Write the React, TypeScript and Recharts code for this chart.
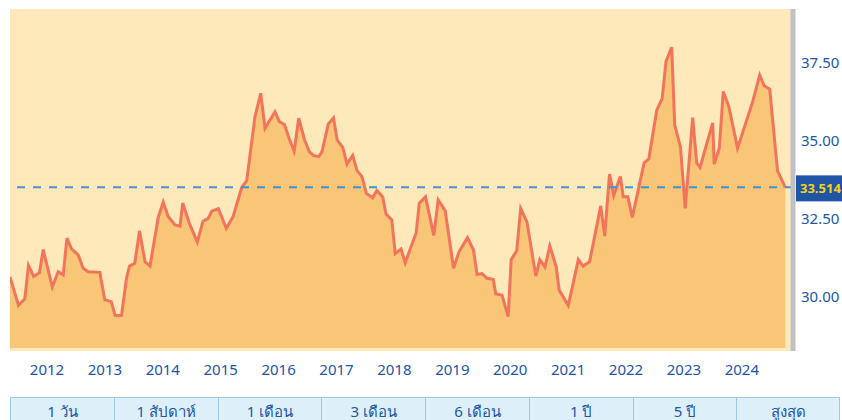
import { AreaChart, Area, XAxis, YAxis, CartesianGrid, ReferenceLine } from 'recharts';

// วันที่ (ปีทศนิยม) และราคาปิด อ่านจากกราฟ
const dates = [
  2011.361, 2011.508, 2011.617, 2011.68, 2011.77, 2011.87, 2011.934, 2012.092, 2012.193, 2012.28,
  2012.344, 2012.423, 2012.539, 2012.625, 2012.712, 2012.912, 2012.998, 2013.109, 2013.178, 2013.287,
  2013.373, 2013.425, 2013.516, 2013.598, 2013.693, 2013.779, 2013.921, 2014.007, 2014.095, 2014.211,
  2014.297, 2014.344, 2014.461, 2014.596, 2014.694, 2014.786, 2014.845, 2014.959, 2015.097, 2015.212,
  2015.363, 2015.449, 2015.592, 2015.691, 2015.765, 2015.938, 2016.012, 2016.102, 2016.18, 2016.269,
  2016.347, 2016.447, 2016.53, 2016.599, 2016.694, 2016.75, 2016.857, 2016.948, 2017.012, 2017.107,
  2017.181, 2017.28, 2017.354, 2017.44, 2017.515, 2017.625, 2017.696, 2017.798, 2017.855, 2017.955,
  2018.014, 2018.114, 2018.187, 2018.376, 2018.43, 2018.537, 2018.68, 2018.756, 2018.877, 2019.021,
  2019.116, 2019.262, 2019.366, 2019.427, 2019.513, 2019.599, 2019.706, 2019.751, 2019.858, 2019.965,
  2020.017, 2020.112, 2020.181, 2020.29, 2020.442, 2020.511, 2020.601, 2020.684, 2020.794, 2020.846,
  2021.003, 2021.176, 2021.257, 2021.37, 2021.447, 2021.563, 2021.632, 2021.715, 2021.788, 2021.902,
  2021.952, 2022.031, 2022.109, 2022.311, 2022.394, 2022.53, 2022.625, 2022.691, 2022.789, 2022.841,
  2022.941, 2023.022, 2023.152, 2023.221, 2023.278, 2023.497, 2023.523, 2023.611, 2023.68, 2023.775,
  2023.926, 2024.188, 2024.309, 2024.387, 2024.482, 2024.617, 2024.75,
];

const prices = [
  30.64, 29.73, 29.94, 31.01, 30.66, 30.78, 31.52, 30.32, 30.81, 30.71,
  31.89, 31.54, 31.35, 30.92, 30.81, 30.79, 29.91, 29.85, 29.41, 29.41,
  30.6, 30.99, 31.08, 32.12, 31.13, 30.99, 32.55, 33.04, 32.57, 32.31,
  32.27, 33.01, 32.35, 31.76, 32.43, 32.52, 32.75, 32.83, 32.2, 32.57,
  33.51, 33.73, 35.78, 36.53, 35.41, 35.94, 35.62, 35.53, 35.09, 34.67,
  35.73, 35.04, 34.66, 34.54, 34.5, 34.66, 35.54, 35.74, 35.03, 34.8,
  34.26, 34.54, 34.06, 33.86, 33.32, 33.18, 33.41, 33.21, 32.66, 32.47,
  31.39, 31.54, 31.1, 32.06, 33.01, 33.21, 31.97, 33.11, 32.77, 30.92,
  31.45, 31.9, 31.51, 30.72, 30.75, 30.6, 30.57, 30.1, 30.06, 29.37,
  31.2, 31.48, 32.84, 32.4, 30.67, 31.2, 30.96, 31.64, 30.97, 30.22,
  29.73, 31.2, 30.99, 31.13, 31.83, 32.92, 31.95, 33.94, 33.25, 33.86,
  33.21, 33.21, 32.55, 34.29, 34.43, 35.98, 36.37, 37.55, 38.0, 35.51,
  34.8, 32.84, 35.75, 34.29, 34.15, 35.58, 34.26, 34.77, 36.59, 36.11,
  34.77, 36.26, 37.11, 36.77, 36.66, 34.04, 33.514,
];

const yearTicks = [2012, 2013, 2014, 2015, 2016, 2017, 2018, 2019, 2020, 2021, 2022, 2023, 2024];
const priceTicks = [30, 32.5, 35, 37.5];
const lastPrice = 33.514;
const ranges = ['1 วัน', '1 สัปดาห์', '1 เดือน', '3 เดือน', '6 เดือน', '1 ปี', '5 ปี', 'สูงสุด'];

const data = dates.map((t, i) => ({ t, price: prices[i] }));

const BLUE = '#2156a5';
const FONT = '"Noto Sans", "DejaVu Sans", sans-serif';

// ป้ายราคาล่าสุดทางขวาของเส้นประ
function PriceLabel({ viewBox }: any) {
  const x = viewBox.x + viewBox.width + 3;
  const y = viewBox.y;
  return (
    <g>
      <rect x={x} y={y - 12} width={46} height={26} fill="#1f55a4" />
      <text x={x + 4} y={y + 1} dy="0.35em" fill="#f6d21c" fontSize={13} fontWeight={700}>
        {lastPrice.toFixed(3)}
      </text>
    </g>
  );
}

export default function App() {
  return (
    <div style={{ position: 'absolute', left: 0, top: 0, width: 842, height: 420, background: '#fff', fontFamily: FONT, overflow: 'hidden' }}>
      <AreaChart
        width={842}
        height={420}
        data={data}
        margin={{ top: 9, right: 0, left: 10, bottom: 39 }}
        style={{ fontFamily: FONT }}
      >
        <CartesianGrid fill="#fde9ba" horizontal={false} vertical={false} />
        <XAxis
          dataKey="t"
          type="number"
          domain={[2011.361, 2024.884]}
          allowDataOverflow
          ticks={yearTicks}
          tickFormatter={(v) => String(v)}
          axisLine={false}
          tickLine={false}
          tickSize={6}
          tickMargin={7}
          height={30}
          tick={{ fill: BLUE, fontSize: 15 }}
        />
        <YAxis
          orientation="right"
          domain={[28.269, 39.231]}
          allowDataOverflow
          ticks={priceTicks}
          tickFormatter={(v) => v.toFixed(2)}
          width={49}
          axisLine={{ stroke: '#bfc0c8', strokeWidth: 5 }}
          tickLine={false}
          tickSize={4}
          tickMargin={4}
          tick={{ fill: BLUE, fontSize: 15, textAnchor: 'start' }}
        />
        <Area
          type="linear"
          dataKey="price"
          stroke="#f2745a"
          strokeWidth={3}
          fill="#f9c577"
          fillOpacity={1}
          baseValue={28.365}
          isAnimationActive={false}
          dot={false}
          activeDot={false}
        />
        <ReferenceLine
          y={lastPrice}
          stroke="#3d94d0"
          strokeWidth={2}
          strokeDasharray="8 8"
          label={<PriceLabel />}
        />
      </AreaChart>
      <div style={{ position: 'absolute', left: 10, top: 397, display: 'flex', width: 830 }}>
        {ranges.map((r, i) => (
          <div
            key={r}
            style={{
              width: 104,
              height: 30,
              boxSizing: 'border-box',
              background: '#ddf0fa',
              borderTop: '1px solid #9ec9e4',
              borderLeft: '1px solid #9ec9e4',
              borderRight: i === ranges.length - 1 ? '1px solid #9ec9e4' : 'none',
              color: BLUE,
              fontSize: 15,
              textAlign: 'center',
              paddingTop: 2,
            }}
          >
            {r}
          </div>
        ))}
      </div>
    </div>
  );
}
